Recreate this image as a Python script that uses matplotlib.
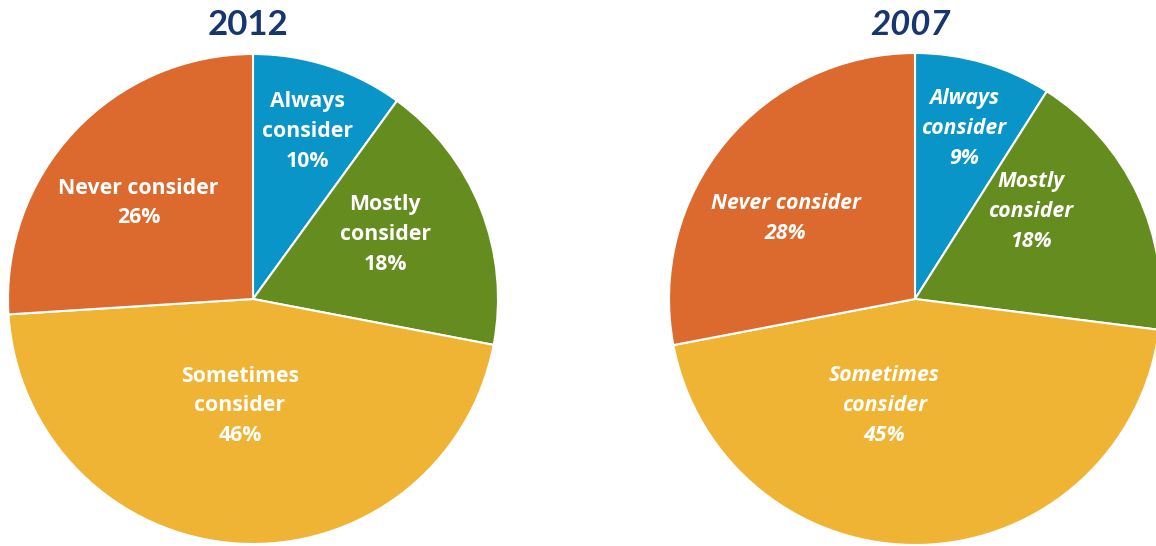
import numpy as np
import matplotlib
matplotlib.use("Agg")
from matplotlib import pyplot as plt

# share of respondents by how often they consider the option
categories = ["Always\nconsider", "Mostly\nconsider", "Sometimes\nconsider", "Never consider"]
values_2012 = [10, 18, 46, 26]
values_2007 = [9, 18, 45, 28]
colors = ["#0995c8", "#658c1e", "#f0b435", "#dc6a2f"]

# label placement per slice: (angle in degrees, distance as fraction of radius)
label_pos_2012 = [(72, 0.72), (26, 0.60), (263, 0.44), (140, 0.61)]
label_pos_2007 = [(74, 0.72), (37, 0.59), (254, 0.45), (148, 0.62)]

plt.rcParams["font.family"] = ["Open Sans", "DejaVu Sans"]

fig = plt.figure(figsize=(11.56, 5.46), dpi=100)


def draw_pie(rect, values, title, label_pos, italic):
    ax = fig.add_axes(rect)
    ax.pie(values, colors=colors, startangle=90, counterclock=False,
           wedgeprops=dict(edgecolor="white", linewidth=1.5))
    ax.set_xlim(-1, 1)
    ax.set_ylim(-1, 1)
    ax.set_aspect("equal")
    style = "italic" if italic else "normal"
    for cat, val, (ang, r) in zip(categories, values, label_pos):
        x = r * np.cos(np.radians(ang))
        y = r * np.sin(np.radians(ang))
        ax.text(x, y, f"{cat}\n{val}%", ha="center", va="center",
                color="white", fontsize=15.3, fontweight="bold",
                fontstyle=style, linespacing=1.55)
    fig.text(rect[0] + rect[2] / 2 - 0.004, 0.955, title, ha="center",
             va="center", fontsize=25, fontweight="bold", fontstyle=style,
             color="#17366e", family=["Lato", "DejaVu Sans"])


draw_pie([8 / 1156, 1 / 546, 490 / 1156, 492 / 546], values_2012, "2012",
         label_pos_2012, False)
draw_pie([669 / 1156, 1 / 546, 492 / 1156, 492 / 546], values_2007, "2007",
         label_pos_2007, True)

fig.savefig("out.png", dpi=100)
